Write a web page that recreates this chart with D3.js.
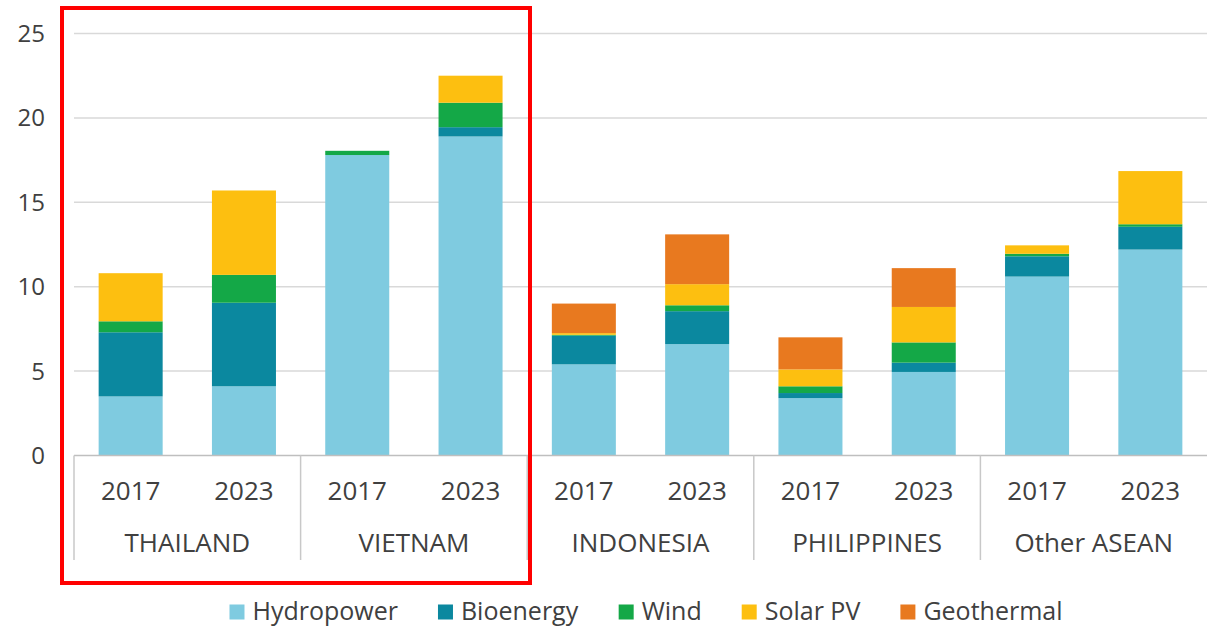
<!DOCTYPE html>
<html>
<head>
<meta charset="utf-8">
<script src="https://cdn.jsdelivr.net/npm/d3@7"></script>
<style>
  html, body { margin: 0; padding: 0; background: #fff; }
  svg { display: block; }
  text { font-family: "Open Sans", "Noto Sans", sans-serif; fill: #404040; }
</style>
</head>
<body>
<svg id="chart" width="1207" height="627"></svg>
<script>
// ---- data ----
const countries = ["THAILAND", "VIETNAM", "INDONESIA", "PHILIPPINES", "Other ASEAN"];
const years = ["2017", "2023"];
const seriesNames = ["Hydropower", "Bioenergy", "Wind", "Solar PV", "Geothermal"];
const seriesColors = ["#7fcbe0", "#0b889f", "#14a847", "#fdbf10", "#e8791f"];
// order of bars: THAILAND 2017, 2023, VIETNAM 2017, 2023, ...
const hydropower = [3.5, 4.1, 17.8, 18.9, 5.4, 6.6, 3.4, 4.95, 10.6, 12.2];
const bioenergy  = [3.8, 4.95, 0.0, 0.55, 1.7, 1.95, 0.3, 0.55, 1.2, 1.35];
const wind       = [0.65, 1.65, 0.25, 1.45, 0.05, 0.35, 0.4, 1.2, 0.15, 0.15];
const solarPV    = [2.85, 5.0, 0.0, 1.6, 0.1, 1.25, 1.0, 2.1, 0.5, 3.15];
const geothermal = [0.0, 0.0, 0.0, 0.0, 1.75, 2.95, 1.9, 2.3, 0.0, 0.0];
const yTicks = [0, 5, 10, 15, 20, 25];

// ---- build table ----
const seriesValues = [hydropower, bioenergy, wind, solarPV, geothermal];
const rows = [];
countries.forEach((c, ci) => years.forEach((y, yi) => {
  const i = ci * years.length + yi;
  const r = { key: c + "|" + y, country: c, year: y };
  seriesNames.forEach((s, si) => r[s] = seriesValues[si][i]);
  rows.push(r);
}));

const svg = d3.select("#chart");
const plotLeft = 74, plotRight = 1207, yBottom = 455.5, yTop = 33.5;

const x = d3.scaleBand().domain(rows.map(d => d.key))
  .range([plotLeft, plotRight]).paddingInner(0.435).paddingOuter(0.2175);
const y = d3.scaleLinear().domain([0, 25]).range([yBottom, yTop]);
const color = d3.scaleOrdinal().domain(seriesNames).range(seriesColors);

// gridlines
svg.append("g").selectAll("line").data(yTicks.filter(t => t > 0)).join("line")
  .attr("x1", plotLeft).attr("x2", plotRight)
  .attr("y1", d => y(d)).attr("y2", d => y(d))
  .attr("stroke", "#d9d9d9").attr("stroke-width", 1.5);

// y tick labels
svg.append("g").selectAll("text").data(yTicks).join("text")
  .attr("x", 45).attr("y", d => y(d)).attr("dy", "0.35em")
  .attr("text-anchor", "end").attr("font-size", 24)
  .text(d => d);

// stacked bars
const stack = d3.stack().keys(seriesNames)(rows);
svg.append("g").selectAll("g").data(stack).join("g")
  .attr("fill", d => color(d.key))
  .selectAll("rect").data(d => d).join("rect")
  .attr("x", d => x(d.data.key))
  .attr("width", x.bandwidth())
  .attr("y", d => y(d[1]))
  .attr("height", d => Math.max(0, y(d[0]) - y(d[1])));

// axis line
svg.append("line").attr("x1", plotLeft).attr("x2", plotRight)
  .attr("y1", yBottom).attr("y2", yBottom)
  .attr("stroke", "#bfbfbf").attr("stroke-width", 1.5);

// group separators
const groupStep = x.step() * years.length;
const seps = d3.range(countries.length).map(i => plotLeft + i * groupStep);
svg.append("g").selectAll("line").data(seps).join("line")
  .attr("x1", d => d).attr("x2", d => d)
  .attr("y1", yBottom).attr("y2", 560)
  .attr("stroke", "#c8c8c8").attr("stroke-width", 1.5);

// year labels
svg.append("g").selectAll("text").data(rows).join("text")
  .attr("x", d => x(d.key) + x.bandwidth() / 2).attr("y", 491)
  .attr("dy", "0.35em").attr("text-anchor", "middle").attr("font-size", 26)
  .text(d => d.year);

// country labels
svg.append("g").selectAll("text").data(countries).join("text")
  .attr("x", (d, i) => plotLeft + (i + 0.5) * groupStep).attr("y", 543)
  .attr("dy", "0.35em").attr("text-anchor", "middle").attr("font-size", 26)
  .text(d => d);

// legend
const legend = svg.append("g");
const items = legend.selectAll("g").data(seriesNames).join("g");
items.append("rect").attr("width", 15).attr("height", 15).attr("y", -6.5)
  .attr("fill", d => color(d));
items.append("text").attr("x", 23).attr("dy", "0.35em").attr("font-size", 25)
  .text(d => d);
let cx = 0;
items.each(function() {
  const w = this.getBBox().width;
  d3.select(this).attr("transform", `translate(${cx},0)`);
  cx += w + 40;
});
const totalW = cx - 40;
legend.attr("transform", `translate(${646 - totalW / 2},611)`);

// red highlight frame
svg.append("rect").attr("x", 62).attr("y", 8).attr("width", 468).attr("height", 575)
  .attr("fill", "none").attr("stroke", "#ff0000").attr("stroke-width", 4);
</script>
</body>
</html>
